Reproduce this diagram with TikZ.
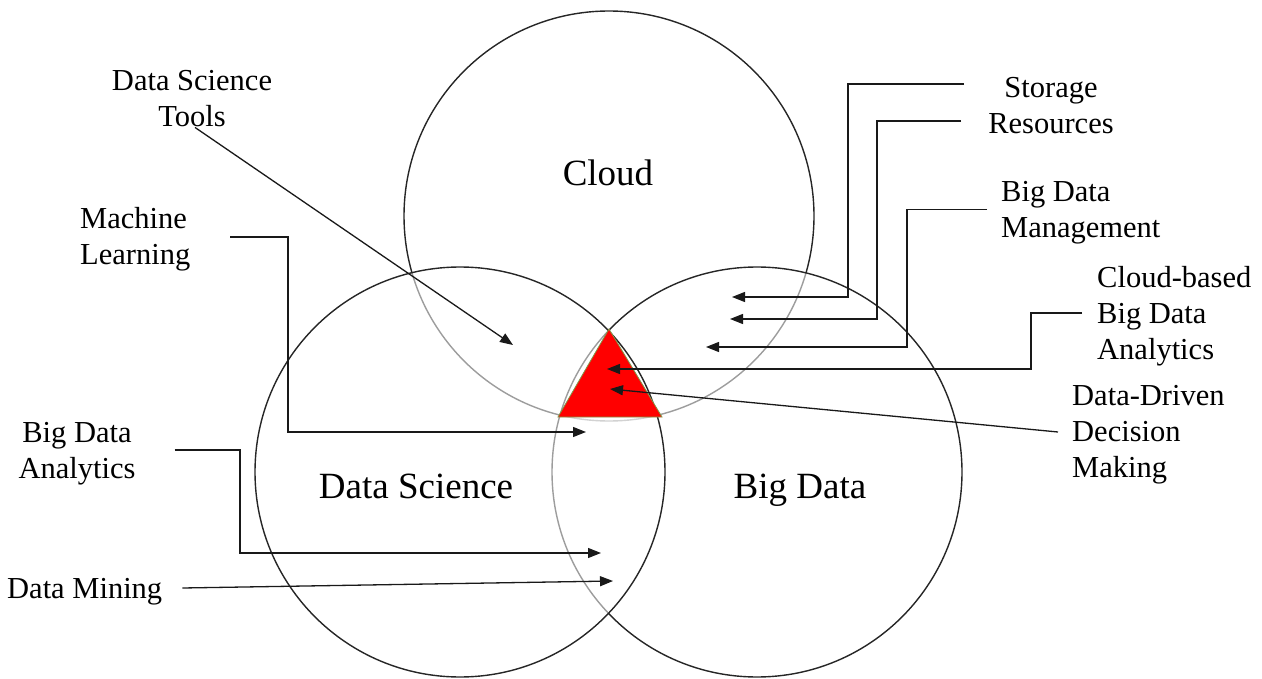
\documentclass[tikz,border=0pt]{standalone}
\usepackage{fontspec}
\setmainfont{Liberation Serif}
\usetikzlibrary{arrows.meta,calc}
\begin{document}
\begin{tikzpicture}[x=1pt,y=-1pt,
  ring/.style={circle, draw=black!85, line width=1.4pt, minimum size=410pt, inner sep=0pt, outer sep=0pt},
  veil/.style={fill=white, fill opacity=0.55},
  lbl/.style={font=\fontsize{30.5}{36}\selectfont, inner sep=0pt},
  big/.style={font=\fontsize{37}{44}\selectfont, inner sep=0pt},
  conn/.style={draw=black!90, line width=1.3pt, -{Triangle[length=13pt,width=10pt]}},
  core/.style={fill=red, draw={rgb,255:red,130;green,150;blue,70}, line width=0.8pt}]
\useasboundingbox (0,0) rectangle (1262,679);

% the three sets; later circles veil the outlines beneath them
\node[ring] (cloud) at (609,216) {};
\node[ring, veil] (bd) at (757,472) {};
\node[ring, veil] (ds) at (460,472) {};

% common core of the three sets
\path[core] (609,329) -- (558,417) -- (662,417) -- cycle;

% set titles
\node[big, anchor=base] (cloudt) at (608,186) {Cloud};
\node[big, anchor=base] (dst-t) at (416,498) {Data Science};
\node[big, anchor=base] (bdt) at (800,498) {Big Data};

% labels
\node[lbl, align=center] (dst) at (192,99) {Data Science\\Tools};
\node[lbl, align=left, anchor=west] (ml) at (80,239) {Machine\\Learning};
\node[lbl, align=center] (bda) at (77,454) {Big Data\\Analytics};
\node[lbl, anchor=west] (dm) at (7,592) {Data Mining};
\node[lbl, align=center] (sr) at (1051,106) {Storage\\Resources};
\node[lbl, align=left, anchor=west] (bdm) at (1001,212.5) {Big Data\\Management};
\node[lbl, align=left, anchor=west] (cbda) at (1097,316) {Cloud-based\\Big Data\\Analytics};
\node[lbl, align=left, anchor=west] (ddd) at (1072,435) {Data-Driven\\Decision\\Making};

% arrow targets
\coordinate (t-dst) at (513,345);
\coordinate (t-ml) at (586,432);
\coordinate (t-bda) at (601,553);
\coordinate (t-dm) at (613,581);
\coordinate (t-st) at (732,297);
\coordinate (t-re) at (730,319);
\coordinate (t-bdm) at (706,347);
\coordinate (t-cb) at (607,369);
\coordinate (t-dd) at (610,389);

% connectors
\draw[conn] ($(dst.south)+(3,0)$) -- (t-dst);
\draw[conn] ($(ml.east)+(40,-2)$) -| ($(t-ml)+(-298,0)$) -- (t-ml);
\draw[conn] ($(bda.east)+(39,-4)$) -| ($(t-bda)+(-361,0)$) -- (t-bda);
\draw[conn] ($(dm.east)+(20,-4)$) -- (t-dm);
\draw[conn] ($(sr.west)+(-24,-22)$) -| ($(t-st)+(116,0)$) -- (t-st);
\draw[conn] ($(sr.west)+(-27,15)$) -| ($(t-re)+(147,0)$) -- (t-re);
\draw[conn] ($(bdm.west)+(-14,-3)$) -| ($(t-bdm)+(201,0)$) -- (t-bdm);
\draw[conn] ($(cbda.west)+(-15,-3)$) -| ($(t-cb)+(424,0)$) -- (t-cb);
\draw[conn] ($(ddd.west)+(-14,-3)$) -- (t-dd);
\end{tikzpicture}
\end{document}
